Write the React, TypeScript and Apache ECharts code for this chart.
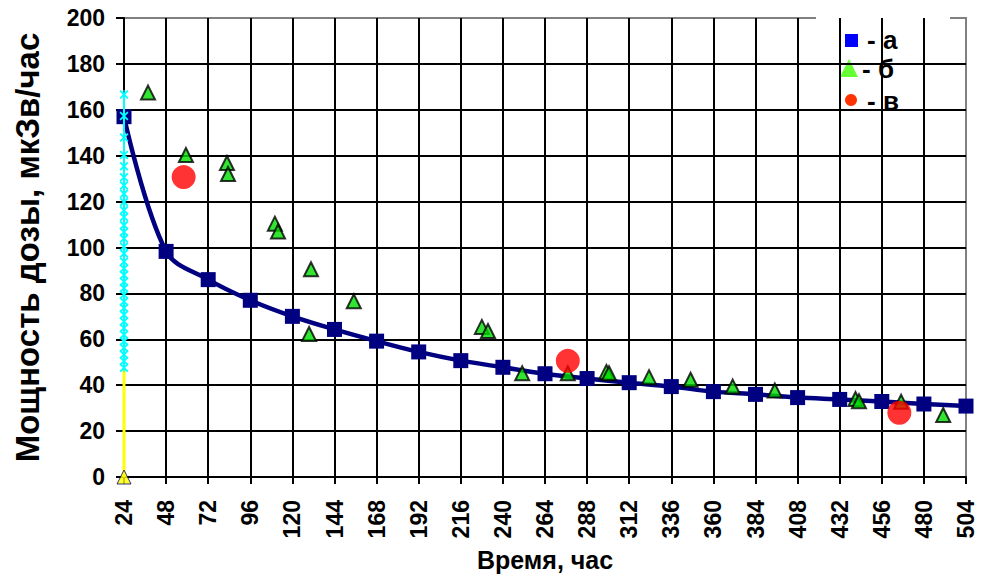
import React, { useEffect, useRef } from "react";
import * as echarts from "echarts";

// Series "а": dose rate curve (hours, µSv/h)
const curveHours = [24, 48, 72, 96, 120, 144, 168, 192, 216, 240, 264, 288, 312, 336, 360, 384, 408, 432, 456, 480, 504];
const curveValues = [157, 98.3, 86, 77, 70, 64.3, 59.2, 54.5, 50.7, 47.8, 45, 42.9, 41.1, 39.4, 37.2, 36, 34.6, 33.8, 32.9, 31.8, 30.9];

// Series "б": measured points
const triHours = [37.7, 59.3, 82.7, 83.3, 110, 111.8, 130.6, 129.5, 155, 228, 231.5, 251, 277, 299, 300.5, 323.3, 347, 371, 395, 441, 443, 467, 491];
const triValues = [167.5, 140.3, 136.8, 132, 110.4, 107, 90.5, 62.3, 76.6, 65.4, 63.6, 45.2, 45.2, 45.8, 45.2, 43.5, 42.4, 39.4, 37.7, 34, 33, 32.8, 27];

// Series "в": measured points
const circHours = [58, 277, 466];
const circValues = [130.7, 50.6, 28];

// Vertical series at 24 h
const startHour = 24;
const startValues = [166.7, 157.3, 147.9, 140.3, 135.4, 130.6, 127, 123.4, 119.8, 116.2, 113.3, 109.7, 106.8, 103.9, 100.3, 97.4, 93.8, 90.9, 88, 85.1, 82.3, 79.4, 76.5, 73.6, 70.7, 67.8, 64.9, 62, 59.2, 56.3, 53.4, 50.5, 47.6];
const baseValues = [0, 47.6];

const yTitle = "Мощность дозы, мкЗв/час";
const xTitle = "Время, час";
const legendLabels = ["- а", "- б", "- в"];

const FONT = "'Liberation Sans', Arial, sans-serif";
const ASTERISK = "path://M0,1.4 L1.4,0 L10,8.6 L8.6,10 Z M8.6,0 L10,1.4 L1.4,10 L0,8.6 Z M4.3,0 L5.7,0 L5.7,10 L4.3,10 Z";

export default function App() {
  const ref = useRef<HTMLDivElement>(null);
  useEffect(() => {
    if (!ref.current) return;
    const chart = echarts.init(ref.current, undefined, { renderer: "svg" });
    const option: any = {
      animation: false,
      backgroundColor: "#ffffff",
      grid: {
        left: 124,
        right: 15,
        top: 18,
        bottom: 97,
        show: true,
        borderColor: "#808080",
        borderWidth: 2,
        backgroundColor: "transparent",
      },
      xAxis: {
        type: "value",
        min: 24,
        max: 504,
        interval: 24,
        name: xTitle,
        nameLocation: "middle",
        nameGap: 70,
        nameTextStyle: { fontFamily: FONT, fontWeight: "bold", fontSize: 25, color: "#000" },
        axisLine: { show: true, onZero: false, lineStyle: { color: "#000", width: 2 } },
        axisTick: { show: true, length: 7, lineStyle: { color: "#000", width: 2 } },
        axisLabel: {
          rotate: 90,
          margin: 23,
          fontFamily: FONT,
          fontWeight: "bold",
          fontSize: 23,
          color: "#000",
        },
        splitLine: { show: true, showMaxLine: false, lineStyle: { color: "#000", width: 2 } },
      },
      yAxis: {
        type: "value",
        min: 0,
        max: 200,
        interval: 20,
        name: yTitle,
        nameLocation: "middle",
        nameGap: 80,
        nameTextStyle: { fontFamily: FONT, fontWeight: "bold", fontSize: 33, color: "#000" },
        axisLine: { show: true, lineStyle: { color: "#000", width: 2 } },
        axisTick: { show: true, length: 8, lineStyle: { color: "#000", width: 2 } },
        axisLabel: {
          margin: 19,
          fontFamily: FONT,
          fontWeight: "bold",
          fontSize: 23,
          color: "#000",
        },
        splitLine: { show: true, showMaxLine: false, lineStyle: { color: "#000", width: 2 } },
      },
      series: [
        {
          name: "а",
          type: "line",
          smooth: 0.35,
          data: curveHours.map((h, i) => [h, curveValues[i]]),
          symbol: "rect",
          symbolSize: 15,
          itemStyle: { color: "#000080" },
          lineStyle: { color: "#000080", width: 4.5 },
          z: 3,
        },
        {
          name: "base",
          type: "line",
          data: baseValues.map((v) => [startHour, v]),
          symbol: "none",
          lineStyle: { color: "#FFFF00", width: 3 },
          z: 4,
        },
        {
          name: "start",
          type: "line",
          data: startValues.map((v) => [startHour, v]),
          symbol: ASTERISK,
          symbolSize: 9,
          itemStyle: { color: "#00FFFF" },
          lineStyle: { color: "#00FFFF", width: 2 },
          z: 5,
        },
        {
          name: "zero",
          type: "scatter",
          data: [[startHour, 0]],
          symbol: "triangle",
          symbolSize: 14,
          itemStyle: { color: "#FFFF00", borderColor: "#000080", borderWidth: 1 },
          z: 6,
        },
        {
          name: "б",
          type: "scatter",
          data: triHours.map((h, i) => [h, triValues[i]]),
          symbol: "triangle",
          symbolSize: 14,
          itemStyle: { color: "#00DD00", borderColor: "#000", borderWidth: 2 },
          z: 7,
        },
        {
          name: "в",
          type: "scatter",
          data: circHours.map((h, i) => [h, circValues[i]]),
          symbol: "circle",
          symbolSize: 24,
          itemStyle: { color: "#FF0000" },
          z: 8,
        },
      ],
      graphic: [
        {
          type: "group",
          z: 100,
          children: [
            { type: "rect", shape: { x: 816, y: 0, width: 134, height: 139 }, style: { fill: "#ffffff" } },
            { type: "rect", shape: { x: 845, y: 34, width: 13, height: 13 }, style: { fill: "#0000FF" } },
            { type: "polygon", shape: { points: [[840, 77], [858, 77], [849, 59]] }, style: { fill: "#66FF33" } },
            { type: "circle", shape: { cx: 851, cy: 100, r: 6 }, style: { fill: "#FF3300" } },
            { type: "text", x: 867, y: 40, style: { text: legendLabels[0], font: `bold 26px ${FONT}`, fill: "#000", verticalAlign: "middle" } },
            { type: "text", x: 862, y: 69, style: { text: legendLabels[1], font: `bold 26px ${FONT}`, fill: "#000", verticalAlign: "middle" } },
            { type: "text", x: 867, y: 101, style: { text: legendLabels[2], font: `bold 26px ${FONT}`, fill: "#000", verticalAlign: "middle" } },
          ],
        },
      ],
    };
    chart.setOption(option);
    return () => chart.dispose();
  }, []);
  return <div ref={ref} style={{ width: 981, height: 577, position: "absolute", left: 0, top: 0 }} />;
}
